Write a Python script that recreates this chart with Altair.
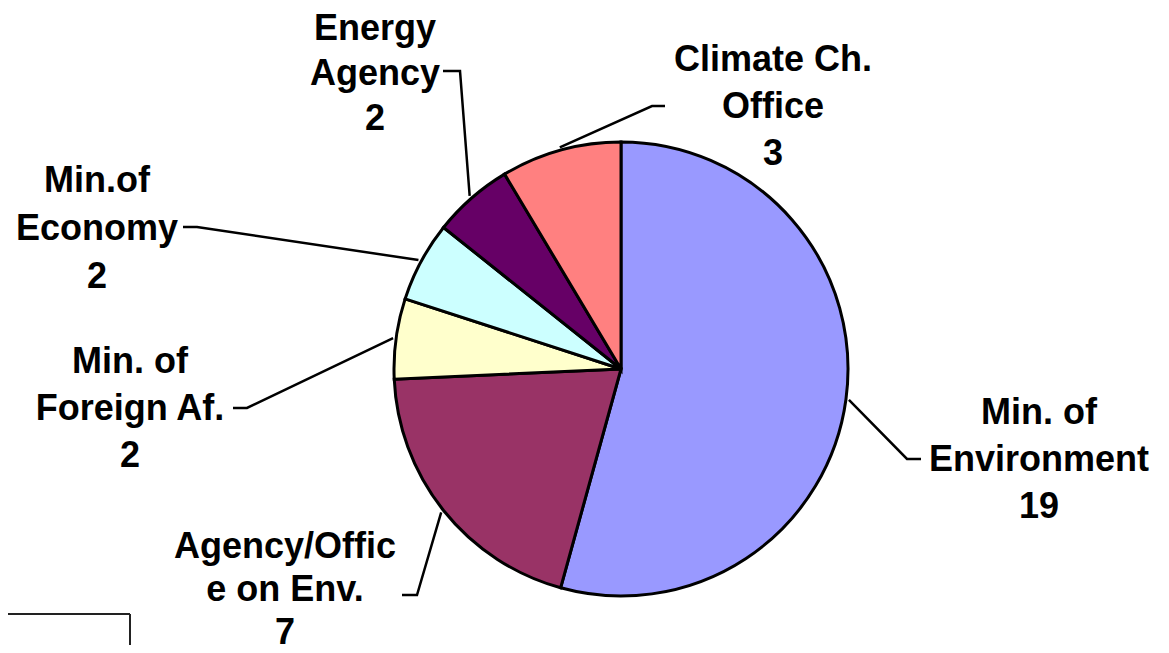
import altair as alt
import numpy as np
import pandas as pd

# ---- data ----
names = ["Min. of Environment", "Agency/Office on Env.", "Min. of Foreign Af.",
         "Min. of Economy", "Energy Agency", "Climate Ch. Office"]
values = [19, 7, 2, 2, 2, 3]
label_text = [["Min. of", "Environment"], ["Agency/Offic", "e on Env."], ["Min. of", "Foreign Af."],
              ["Min.of", "Economy"], ["Energy", "Agency"], ["Climate Ch.", "Office"]]
colors = ["#9999FF", "#993366", "#FFFFCC", "#CCFFFF", "#660066", "#FF8080"]

# ---- layout (view pixel coordinates; page = view + 8) ----
OFF = 8
cx, cy, R = 621 - OFF, 369 - OFF, 227
label_x = [1039, 285, 130, 97, 375, 773]
label_y = [411, 545, 360, 179, 27, 58]      # first line centre
label_gap = [47, 43, 47, 48, 45, 47]          # line spacing
elbow_x = [907, 417, 247, 197, 460, 652]
elbow_y = [459, 595, 408, 227, 71, 106]
end_x = [921, 402, 233, 183, 443, 665]
end_y = [459, 595, 408, 227, 71, 106]

FONT = "Liberation Sans"
FS = 36

pie_df = pd.DataFrame({"name": names, "value": values, "idx": range(len(names))})

lab_rows = []
for i, n in enumerate(names):
    lines = label_text[i] + [str(values[i])]
    for k, t in enumerate(lines):
        lab_rows.append({"name": n, "text": t,
                         "x": label_x[i] - OFF,
                         "y": label_y[i] + k * label_gap[i] - OFF + 2})
lab_df = pd.DataFrame(lab_rows)

# leader lines: start on the pie edge at each slice's mid angle (from data)
vals = np.array(values, dtype=float)
cum = np.cumsum(vals)
mid = (cum - vals / 2) / vals.sum() * 2 * np.pi
r_start = R + 3
rows = []
for i, n in enumerate(names):
    sx = cx + r_start * np.sin(mid[i])
    sy = cy - r_start * np.cos(mid[i])
    rows.append({"name": n, "pt": 0, "x": sx, "y": sy})
    rows.append({"name": n, "pt": 1, "x": elbow_x[i] - OFF, "y": elbow_y[i] - OFF})
    rows.append({"name": n, "pt": 2, "x": end_x[i] - OFF, "y": end_y[i] - OFF})
line_df = pd.DataFrame(rows)

pie = alt.Chart(pie_df).mark_arc(radius=R, stroke="black", strokeWidth=3).encode(
    theta=alt.Theta("value:Q", stack=True),
    color=alt.Color("name:N", scale=alt.Scale(domain=names, range=colors), legend=None),
    order=alt.Order("idx:Q"),
    x=alt.value(cx),
    y=alt.value(cy),
)

leaders = alt.Chart(line_df).mark_line(color="black", strokeWidth=2.5).encode(
    x=alt.X("x:Q", scale=None, axis=None),
    y=alt.Y("y:Q", scale=None, axis=None),
    detail="name:N",
    order="pt:Q",
)

labels = alt.Chart(lab_df).mark_text(
    font=FONT, fontSize=FS, fontWeight="bold", color="black",
    align="center", baseline="middle",
).encode(
    x=alt.X("x:Q", scale=None, axis=None),
    y=alt.Y("y:Q", scale=None, axis=None),
    text="text:N",
)

box_top = alt.Chart(pie_df).mark_rule(color="#222222", strokeWidth=2).encode(
    x=alt.value(0), x2=alt.value(130 - OFF), y=alt.value(614 - OFF)
)
box_right = alt.Chart(pie_df).mark_rule(color="#222222", strokeWidth=2).encode(
    x=alt.value(130 - OFF), y=alt.value(614 - OFF), y2=alt.value(660)
)

chart = alt.layer(pie, leaders, labels, box_top, box_right).properties(
    width=1169 - 2 * OFF,
    height=653 - 2 * OFF,
    autosize=alt.AutoSizeParams(type="none"),
    padding=0,
    background="white",
).configure_view(stroke=None)

chart.save("out.html", embed_options={"renderer": "svg", "actions": False})
